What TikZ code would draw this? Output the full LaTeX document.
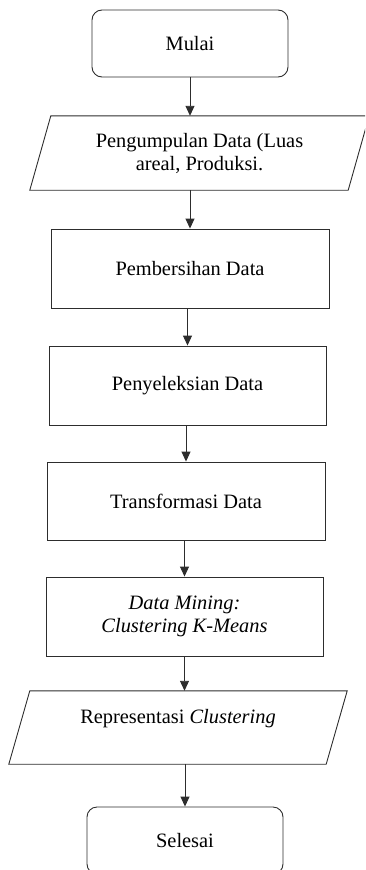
\documentclass[tikz,border=0pt]{standalone}
\usepackage{fontspec}
\setmainfont{Liberation Serif}
\usetikzlibrary{arrows.meta}
\definecolor{ln}{RGB}{45,45,45}
\newcommand\flowfont{\fontsize{20.4}{23}\selectfont}
\begin{document}
\begin{tikzpicture}[x=1pt,y=-1pt,
  term/.style={draw=ln, line width=0.9pt, rounded corners=10pt, minimum width=196pt, minimum height=67pt, inner sep=0pt, font=\flowfont},
  proc/.style={draw=ln, line width=0.9pt, minimum height=79pt, inner sep=0pt, align=center, font=\flowfont},
  io/.style={minimum height=74pt, inner sep=0pt, align=center, font=\flowfont},
  outline/.style={draw=ln, line width=0.9pt},
  arr/.style={draw=ln, line width=0.9pt, -{Triangle[length=10pt,width=9pt]}}]
\clip (0,0) rectangle (365,870);
\node[term] (m) at (190,43.5) {Mulai};
\node[io, minimum width=318pt] (p2) at (199.5,153) {Pengumpulan Data (Luas\\areal, Produksi.};
\draw[outline] ([xshift=-10.5pt]p2.south west) -- ([xshift=10.5pt]p2.north west) -- ([xshift=10.5pt]p2.north east) -- ([xshift=-10.5pt]p2.south east) -- cycle;
\node[proc, minimum width=278pt] (b2) at (190,268.5) {Pembersihan Data};
\node[proc, minimum width=277pt] (b3) at (187.5,385.5) {Penyeleksian Data};
\node[proc, minimum width=278pt, minimum height=78pt] (b4) at (186,501) {Transformasi Data};
\node[proc, minimum width=277pt] (b5) at (184.5,616.5) {\textit{Data Mining:}\\\textit{Clustering K-Means}};
\node[io, minimum width=317pt, minimum height=73pt] (p6) at (178,727.5) {Representasi \textit{Clustering}\\\mbox{}};
\draw[outline] ([xshift=-10.5pt]p6.south west) -- ([xshift=10.5pt]p6.north west) -- ([xshift=10.5pt]p6.north east) -- ([xshift=-10.5pt]p6.south east) -- cycle;
\node[term] (e) at (185,840.5) {Selesai};
\draw[arr] (m.south) -- (p2.north -| m.south);
\draw[arr] (p2.south -| b2.north) -- (b2.north);
\draw[arr] (b2.south -| b3.north) -- (b3.north);
\draw[arr] (b3.south -| b4.north) -- (b4.north);
\draw[arr] (b4.south -| b5.north) -- (b5.north);
\draw[arr] (b5.south) -- (p6.north -| b5.south);
\draw[arr] (p6.south -| e.north) -- (e.north);
\end{tikzpicture}
\end{document}
